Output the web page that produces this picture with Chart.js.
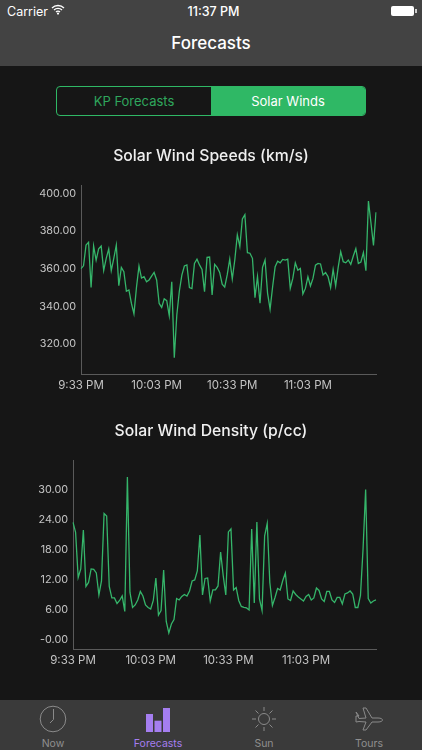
<!DOCTYPE html>
<html><head><meta charset="utf-8">
<script src="https://cdn.jsdelivr.net/npm/chart.js@4"></script>
<style>
html,body{margin:0;padding:0;background:#161616;width:422px;height:750px;overflow:hidden;font-family:Inter,"Noto Sans",sans-serif;}
.abs{position:absolute;}
canvas{position:absolute;}
#nav{left:0;top:0;width:422px;height:66px;background:#434343;color:#fff;}
#tab{left:0;top:700px;width:422px;height:50px;background:#3a3a3a;}
.t{position:absolute;white-space:nowrap;}
.tl{position:absolute;top:37px;width:100px;text-align:center;font-size:10.5px;color:#8f8f8f;line-height:14px;}
</style></head><body>
<canvas id="c1" style="left:0;top:141px;width:422px;height:256px"></canvas>
<canvas id="c2" style="left:0;top:416px;width:422px;height:256px"></canvas>
<div class="t" id="third" style="left:145px;top:697px;color:#eee;font-size:16px;font-weight:500;line-height:20px">Solar Wind</div>

<div class="abs" id="nav">
  <div class="t" style="left:7px;top:4px;font-size:12.5px;line-height:16px">Carrier</div>
  <svg class="abs" style="left:51px;top:4px" width="14" height="11" viewBox="0 0 14 11"><path d="M1 4a8.5 8.5 0 0 1 12 0M3 6a5.6 5.6 0 0 1 8 0M5 8a2.8 2.8 0 0 1 4 0" fill="none" stroke="#fff" stroke-width="1.3"/><circle cx="7" cy="9.6" r="1.1" fill="#fff"/></svg>
  <div class="t" style="left:0;width:427px;text-align:center;top:4px;font-size:12.5px;font-weight:500;line-height:16px">11:37 PM</div>
  <div class="abs" style="left:391px;top:6px;width:23px;height:10px;background:#fff;border-radius:2px"></div>
  <div class="abs" style="left:415px;top:9px;width:1.5px;height:4px;background:#ccc"></div>
  <div class="t" style="left:0;width:422px;text-align:center;top:32px;font-size:17px;font-weight:500;line-height:22px">Forecasts</div>
</div>

<div class="abs" style="left:56px;top:86px;width:308px;height:28px;border:1px solid #2fb865;border-radius:4px;overflow:hidden">
  <div class="abs" style="left:154px;top:0;width:154px;height:28px;background:#2fb865"></div>
  <div class="t" style="left:0;width:154px;text-align:center;top:0;line-height:28px;font-size:13px;color:#2fa65d">KP Forecasts</div>
  <div class="t" style="left:154px;width:154px;text-align:center;top:0;line-height:28px;font-size:13px;color:#fff">Solar Winds</div>
</div>

<div class="abs" id="tab">
  <svg class="abs" style="left:39px;top:5px" width="28" height="28" viewBox="0 0 28 28"><circle cx="14" cy="14" r="12.8" fill="none" stroke="#8a8a8a" stroke-width="1"/><path d="M14.5 4v10.5L11 18" fill="none" stroke="#8a8a8a" stroke-width="1"/></svg>
  <svg class="abs" style="left:146px;top:8px" width="24" height="24" viewBox="0 0 24 24"><rect x="0" y="6" width="7" height="18" fill="#a57ef0"/><rect x="8.5" y="12.7" width="7" height="11.3" fill="#a57ef0"/><rect x="17" y="0" width="7" height="24" fill="#a57ef0"/></svg>
  <svg class="abs" style="left:251px;top:6px" width="26" height="26" viewBox="0 0 26 26"><g fill="none" stroke="#8a8a8a" stroke-width="1"><circle cx="13" cy="13" r="5.5"/><path d="M13 1v4M13 21v4M1 13h4M21 13h4M4.5 4.5l3 3M18.5 18.5l3 3M21.5 4.5l-3 3M7.5 18.5l-3 3"/></g></svg>
  <svg class="abs" style="left:355px;top:7px" width="28" height="24" viewBox="0 0 28 24"><path d="M1 5l3 4-3 0 0 6 3-0.5 7 .5-3 8h3l6-8 6 0c6 0 6-4 0-4h-6l-6-10h-3l3 10-7 .5z" fill="none" stroke="#8a8a8a" stroke-width="1"/></svg>
  <div class="tl" style="left:3px">Now</div>
  <div class="tl" style="left:108px;color:#a57ef0">Forecasts</div>
  <div class="tl" style="left:214px">Sun</div>
  <div class="tl" style="left:319px">Tours</div>
</div>

<script>
const speedTitle = 'Solar Wind Speeds (km/s)';
const densityTitle = 'Solar Wind Density (p/cc)';
const timeTicks = ['9:33 PM','10:03 PM','10:33 PM','11:03 PM'];
const speedTicks = [320,340,360,380,400];
const densityTicks = [0,6,12,18,24,30];
const speedValues = [360,361.5,372.5,374,350,372,364.5,370.5,372,359,365.5,370.5,359,365.5,372.5,351,360.7,358.4,348,348.7,341.5,336,350,361.4,355,355.7,353,354,356,358,354,341.5,339.4,344,343,335,353,312.7,335.4,348,356.6,361.4,362,350,349.4,362.8,365,362,359.6,347.8,366,366.2,346,362.3,360.7,358,351.8,350.2,356.8,365.1,354.5,364.7,378,371.8,386.4,388.7,368.5,368.2,365.5,344.6,355.8,341.6,360.7,364.6,346.9,338.5,350.4,361,364,363.1,364.9,364.6,365.1,349.5,354.8,363.1,359.2,360.1,346.5,349.5,355.7,350.8,354.8,361.9,362.8,362.5,356.6,357.9,355.7,349.9,359.6,350.8,360.7,369,363.7,363.1,364.6,362.3,366.7,370.6,362.8,363.5,368.6,358.9,395.9,384.4,372.3,390];
const densityValues = [23.5,21.5,12.5,14.2,22,10.7,11.5,14.2,14.1,13.4,9,11.8,25.3,24.8,10.7,8.4,8.4,7.3,7.9,8.8,5.7,32.6,9.5,6.5,7,8,9.7,8.8,7,6.5,6.2,7.9,12.4,5,5.9,14,3.7,1.4,3.2,4.1,8.3,8,8.7,9.1,8.8,9.8,11.8,12,13.8,21,9,12.3,12.4,7.8,10,10,10.8,17.6,12.9,9,21.6,22.2,10,10.5,7.9,6.7,6.5,6.4,6,22.2,7.4,23.6,8.2,5.9,20.8,23.3,11.5,6.9,8.5,10.3,10,11.9,13.4,8.2,7.9,9.8,9.1,8.6,8.2,7.8,8.7,9.1,8,8.4,10.4,9.9,8.2,7.7,9.7,9.7,8,7.5,8.5,8.5,7.2,9.2,9.4,9.8,9.2,6.5,6.5,8.9,18.2,30.1,8.3,7.4,7.8,8];

const TICK_STEP = 30;
const labelsFor = vals => vals.map((_, i) => i % TICK_STEP === 0 ? timeTicks[i / TICK_STEP] : '');

function makeChart(id, title, values, yTicks, yMin, yMax, yFmt, leftWidth) {
  return new Chart(document.getElementById(id), {
    type: 'line',
    data: { labels: labelsFor(values), datasets: [{ data: values, borderColor: '#35b56a', borderWidth: 1.3, pointRadius: 0, tension: 0, fill: false }] },
    options: {
      responsive: false, animation: false,
      plugins: {
        legend: { display: false }, tooltip: { enabled: false },
        title: { display: true, text: title, color: '#f0f0f0', font: { family: 'Inter', size: 15.75, weight: '500' }, padding: { top: 6, bottom: 20 } }
      },
      scales: {
        x: {
          grid: { display: false, drawTicks: false }, border: { color: '#5a5a5a', width: 1 },
          afterFit: s => { s.height = 23; },
          ticks: { autoSkip: false, maxRotation: 0, minRotation: 0, padding: 5, color: '#c4c4c4', font: { family: 'Inter', size: 11.5 }, callback(v) { return this.getLabelForValue(v); } }
        },
        y: {
          min: yMin, max: yMax,
          grid: { display: false, drawTicks: false }, border: { color: '#5a5a5a', width: 1 },
          afterFit: s => { s.width = leftWidth; },
          afterBuildTicks: s => { s.ticks = yTicks.map(v => ({ value: v })); },
          ticks: { padding: 5, color: '#c4c4c4', font: { family: 'Inter', size: 10.8 }, callback: yFmt }
        },
        gutter: {
          position: 'right', display: true,
          grid: { display: false, drawTicks: false }, border: { display: false },
          ticks: { display: false },
          afterFit: s => { s.width = 46; }
        }
      }
    }
  });
}
for (const id of ['c1','c2']) { const c = document.getElementById(id); c.width = 422; c.height = 256; }
makeChart('c1', speedTitle, speedValues, speedTicks, 304, 404, v => v.toFixed(2), 81);
makeChart('c2', densityTitle, densityValues, densityTicks, -1.8, 35.8, v => v === 0 ? '-0.00' : v.toFixed(2), 73);
</script>
</body></html>
